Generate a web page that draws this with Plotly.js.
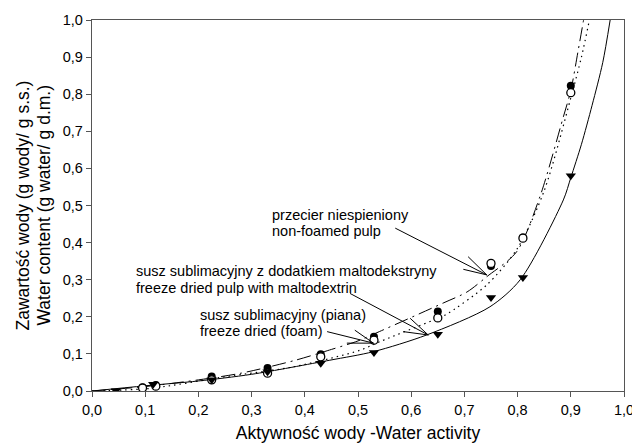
<!DOCTYPE html>
<html>
<head>
<meta charset="utf-8">
<script src="https://cdn.plot.ly/plotly-3.0.1.min.js"></script>
<style>html,body{margin:0;padding:0;background:#fff;}#chart{width:632px;height:443px;}</style>
</head>
<body>
<div id="chart"></div>
<script>
// Measured points
const awFilled = [0.095, 0.12, 0.225, 0.33, 0.43, 0.53, 0.65, 0.75, 0.81, 0.90];
const wcFilled = [0.010, 0.016, 0.039, 0.062, 0.099, 0.146, 0.214, 0.337, 0.414, 0.823];
const awOpen = [0.095, 0.12, 0.225, 0.33, 0.43, 0.53, 0.65, 0.75, 0.81, 0.90];
const wcOpen = [0.008, 0.013, 0.030, 0.048, 0.092, 0.137, 0.197, 0.344, 0.412, 0.804];
const awTri = [0.045, 0.115, 0.225, 0.33, 0.43, 0.53, 0.65, 0.75, 0.81, 0.90];
const wcTri = [0.001, 0.018, 0.030, 0.052, 0.075, 0.104, 0.153, 0.252, 0.306, 0.580];

// Fitted curves
const fitNonFoamX = [0, 0.10, 0.20, 0.28, 0.38, 0.45, 0.50, 0.54, 0.66, 0.705, 0.742, 0.798, 0.842, 0.886, 0.90, 0.914, 0.924];
const fitNonFoamY = [0, 0.012, 0.030, 0.048, 0.082, 0.112, 0.135, 0.160, 0.237, 0.267, 0.308, 0.375, 0.524, 0.739, 0.810, 0.919, 1.0];
const fitFoamX = [0, 0.109, 0.253, 0.378, 0.504, 0.541, 0.64, 0.664, 0.742, 0.80, 0.85, 0.90, 0.92, 0.935];
const fitFoamY = [0, 0.007, 0.039, 0.065, 0.110, 0.133, 0.190, 0.205, 0.286, 0.385, 0.540, 0.790, 0.900, 1.0];
const fitMaltoX = [0, 0.10, 0.20, 0.30, 0.447, 0.529, 0.629, 0.748, 0.805, 0.886, 0.90, 0.92, 0.94, 0.96, 0.974];
const fitMaltoY = [0, 0.014, 0.027, 0.045, 0.083, 0.106, 0.151, 0.227, 0.300, 0.515, 0.575, 0.665, 0.770, 0.885, 1.0];

const xTicks = [0, 0.1, 0.2, 0.3, 0.4, 0.5, 0.6, 0.7, 0.8, 0.9, 1.0];
const yTicks = [0, 0.1, 0.2, 0.3, 0.4, 0.5, 0.6, 0.7, 0.8, 0.9, 1.0];

const labelLines = [
  'przecier niespieniony', 'non-foamed pulp',
  'susz sublimacyjny z dodatkiem maltodekstryny', 'freeze dried pulp with maltodextrin',
  'susz sublimacyjny (piana)', 'freeze dried (foam)'
];
const xTitle = 'Aktywność wody -Water activity';
const yTitleLines = ['Zawartość wody (g wody/ g s.s.)', 'Water content (g water/ g d.m.)'];

const traces = [
  {x: fitNonFoamX, y: fitNonFoamY, mode: 'lines', line: {shape: 'spline', smoothing: 0.8, color: '#000', width: 1, dash: '14px,5px,2px,5px'}, hoverinfo: 'skip'},
  {x: fitFoamX, y: fitFoamY, mode: 'lines', line: {shape: 'spline', smoothing: 0.8, color: '#000', width: 1.2, dash: '1.5px,4px'}, hoverinfo: 'skip'},
  {x: fitMaltoX, y: fitMaltoY, mode: 'lines', line: {shape: 'spline', smoothing: 0.8, color: '#000', width: 1}, hoverinfo: 'skip'},
  {x: awFilled, y: wcFilled, mode: 'markers', marker: {symbol: 'circle', size: 8, color: '#000'}},
  {x: awOpen, y: wcOpen, mode: 'markers', marker: {symbol: 'circle', size: 8, color: '#fff', line: {color: '#000', width: 1.3}}},
  {x: awTri, y: wcTri, mode: 'markers', marker: {symbol: 'triangle-down', size: 9, color: '#000'}}
];

function arrow(tail, tip, a1, a2) {
  return {type: 'path', xref: 'x', yref: 'y',
    path: 'M' + tail[0] + ',' + tail[1] + 'L' + tip[0] + ',' + tip[1] +
          'M' + a1[0] + ',' + a1[1] + 'L' + tip[0] + ',' + tip[1] + 'L' + a2[0] + ',' + a2[1],
    line: {color: '#000', width: 1}};
}

const font = {family: 'Arial, "Liberation Sans", sans-serif', color: '#000'};
const f = (s) => Object.assign({size: s}, font);

function label(text, x, y) {
  return {x: x, y: y, xref: 'x', yref: 'y', text: text, showarrow: false,
          xanchor: 'left', yanchor: 'middle', align: 'left', borderpad: 0, font: f(14.5)};
}
function yLabel(text, x) {
  return {x: x, y: 0.5, xref: 'paper', yref: 'paper', text: text, showarrow: false,
          textangle: -90, xanchor: 'center', yanchor: 'middle', borderpad: 0, font: f(17.5)};
}

const layout = {
  width: 632, height: 443,
  margin: {l: 92, r: 8, t: 20, b: 52},
  paper_bgcolor: '#fff', plot_bgcolor: '#fff',
  showlegend: false,
  separators: ', ',
  font: f(14.5),
  xaxis: {
    range: [0, 1], tickvals: xTicks, tickformat: '.1f',
    showgrid: false, zeroline: false,
    showline: true, linecolor: '#555', linewidth: 1.3, mirror: true,
    ticks: 'outside', ticklen: 5, tickcolor: '#555', tickwidth: 1,
    ticklabeloverflow: 'allow',
    tickfont: f(14.5),
    title: {text: xTitle, font: f(17.5), standoff: 10}
  },
  yaxis: {
    range: [0, 1], tickvals: yTicks, tickformat: '.1f',
    showgrid: false, zeroline: false,
    showline: true, linecolor: '#555', linewidth: 1.3, mirror: true,
    ticks: 'outside', ticklen: 5, tickcolor: '#555', tickwidth: 1,
    tickfont: f(14.5)
  },
  annotations: [
    yLabel(yTitleLines[0], (22 - 92) / 532),
    yLabel(yTitleLines[1], (43 - 92) / 532),
    label(labelLines[0], 0.336, 0.474),
    label(labelLines[1], 0.336, 0.432),
    label(labelLines[2], 0.081, 0.324),
    label(labelLines[3], 0.081, 0.277),
    label(labelLines[4], 0.201, 0.205),
    label(labelLines[5], 0.201, 0.163)
  ],
  shapes: [
    arrow([0.570, 0.439], [0.742, 0.313], [0.707, 0.362], [0.698, 0.328]),
    arrow([0.485, 0.263], [0.632, 0.151], [0.598, 0.196], [0.585, 0.160]),
    arrow([0.442, 0.160], [0.529, 0.129], [0.494, 0.164], [0.479, 0.129])
  ]
};

Plotly.newPlot('chart', traces, layout, {staticPlot: true, displayModeBar: false});
</script>
</body>
</html>
